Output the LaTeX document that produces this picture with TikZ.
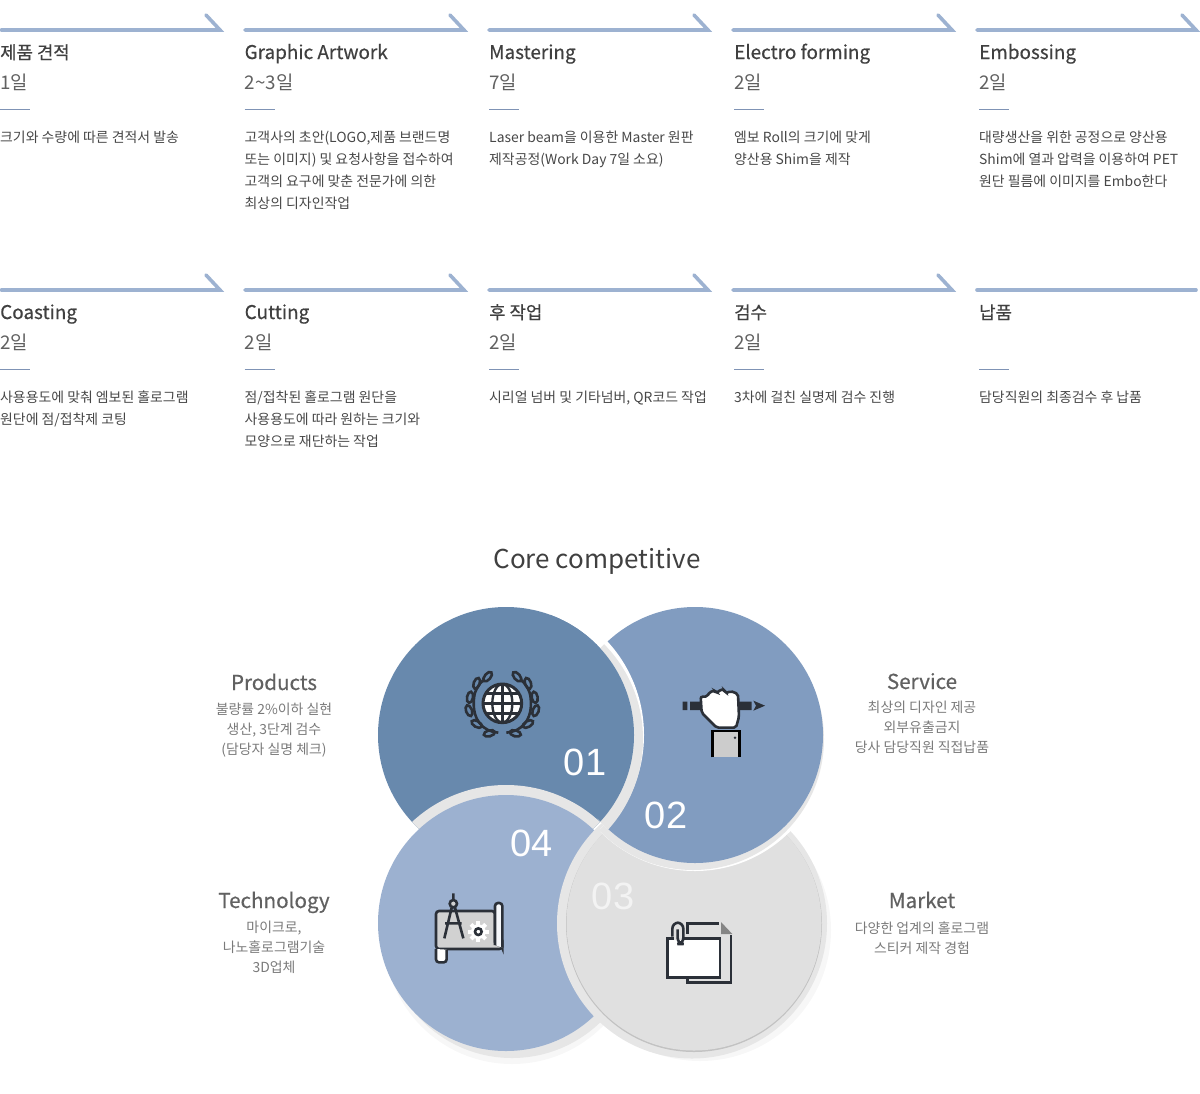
\documentclass[tikz,border=0pt]{standalone}
\usepackage{fontspec}
\setmainfont{Noto Sans CJK KR}
\newfontfamily\headfont[FakeBold=.5]{Noto Sans CJK KR}
\newfontfamily\numfont{Liberation Sans}
\usetikzlibrary{positioning}
\definecolor{stepblue}{HTML}{9DB2D1}
\definecolor{ruleblue}{HTML}{7F93B5}
\definecolor{discA}{HTML}{6889AD}
\definecolor{discB}{HTML}{819CC0}
\definecolor{discC}{HTML}{E0E0E0}
\definecolor{discD}{HTML}{9CB1D0}
\definecolor{ringgrey}{HTML}{E6E6E6}
\definecolor{icondark}{HTML}{2B3038}
\newcommand{\krtitle}[1]{\fontsize{17.8}{22}\selectfont #1}
\tikzset{
    steptitle/.style={anchor=base west, inner sep=0pt, text=black!75, font=\headfont\fontsize{18.9}{22}\selectfont},
    stepdays/.style={anchor=base west, inner sep=0pt, text=black!62, font=\fontsize{18.8}{22}\selectfont},
    stepnote/.style={anchor=north west, inner sep=0pt, align=left, text=black!72, font=\fontsize{13.9}{22}\selectfont},
    steparrow/.style={draw=stepblue, line width=3.6pt, line cap=round},
    sidehead/.style={anchor=base, inner sep=0pt, text=black!62, font=\headfont\fontsize{20.6}{24}\selectfont},
    sidenote/.style={anchor=north, inner sep=0pt, align=center, text=black!52, font=\fontsize{13.9}{20}\selectfont},
    discnum/.style={inner sep=0pt, text=white, font=\numfont\fontsize{38}{38}\selectfont},
    icon/.style={draw=icondark, line width=2.6pt},
}
\begin{document}
\begin{tikzpicture}[x=1pt, y=-1pt]
    \useasboundingbox (0,0) rectangle (1200,1093);
    % process steps
    \foreach \x/\tx/\name/\title/\days/\note in {
        0/0/quote/\krtitle{제품 견적}/1일/크기와 수량에 따른 견적서 발송,
        244/244.5/artwork/Graphic Artwork/2\char`\~3일/{고객사의 초안(LOGO,제품 브랜드명\\또는 이미지) 및 요청사항을 접수하여\\고객의 요구에 맞춘 전문가에 의한\\최상의 디자인작업},
        488/489/master/Mastering/7일/{Laser beam을 이용한 Master 원판\\제작공정(Work Day 7일 소요)},
        732/734/electro/Electro forming/2일/{엠보 Roll의 크기에 맞게\\양산용 Shim을 제작},
        976/979/emboss/Embossing/2일/{대량생산을 위한 공정으로 양산용\\Shim에 열과 압력을 이용하여 PET\\원단 필름에 이미지를 Embo한다}}{
            \coordinate (\name start) at (\x+1,30);
            \coordinate (\name end) at (\x+220,30);
            \coordinate (\name barb) at (\x+206,15);
            \draw[steparrow] (\name start) -- (\name end) -- (\name barb);
            \node[steptitle] (\name title) at (\tx,59) {\title};
            \node[stepdays] (\name days) at (\tx,89) {\days};
            \coordinate (\name a) at (\tx,109);
            \coordinate (\name b) at (\tx+30,109);
            \draw[ruleblue, line width=.7pt] (\name a) -- (\name b);
            \node[stepnote] (\name note) at (\tx,130.5) {\note};
        }
    \foreach \x/\tx/\name/\title/\days/\note in {
        0/0/coast/Coasting/2일/{사용용도에 맞춰 엠보된 홀로그램\\원단에 점/접착제 코팅},
        244/244.5/cut/Cutting/2일/{점/접착된 홀로그램 원단을\\사용용도에 따라 원하는 크기와\\모양으로 재단하는 작업},
        488/489/after/\krtitle{후 작업}/2일/{시리얼 넘버 및 기타넘버, QR코드 작업},
        732/734/check/\krtitle{검수}/2일/3차에 걸친 실명제 검수 진행,
        976/979/deliver/\krtitle{납품}//담당직원의 최종검수 후 납품}{
            \coordinate (\name start) at (\x+1,290);
            \coordinate (\name end) at (\x+220,290);
            \coordinate (\name barb) at (\x+206,275);
            \ifnum\x<900
                \draw[steparrow] (\name start) -- (\name end) -- (\name barb);
            \else
                \draw[steparrow] (\name start) -- (\name end);
            \fi
            \node[steptitle] (\name title) at (\tx,319) {\title};
            \node[stepdays] (\name days) at (\tx,349) {\days};
            \coordinate (\name a) at (\tx,369);
            \coordinate (\name b) at (\tx+30,369);
            \draw[ruleblue, line width=.7pt] (\name a) -- (\name b);
            \node[stepnote] (\name note) at (\tx,390.5) {\note};
        }

    \node[anchor=base, inner sep=0pt, text=black!75, font=\fontsize{26}{30}\selectfont] (core) at (597,568) {Core competitive};

    % discs, each one lying over the next
    \fill[black!3] (700,930) circle (131);
    \fill[black!3] (512,936) circle (128);
    \fill[discA] (506,735) circle (128);
    \begin{scope}
        \clip (506,735) circle (128);
        \fill[ringgrey] (506,923) circle (138);
    \end{scope}
    \fill[ringgrey] (512,931) circle (127);
    \fill[discD] (506,923) circle (128);
    \fill[ringgrey] (692,923.5) circle (135);
    \fill[black!24] (694,924) circle (128);
    \fill[discC] (694,923) circle (127.5);
    \begin{scope}
        \clip (600,829) -- (695,735) -- (700,590) -- (900,590) -- (900,900) -- (600,900) -- cycle;
        \fill[white] (695,737) circle (134);
        \fill[ringgrey] (693,739) circle (131);
    \end{scope}
    \fill[discB] (695,735) circle (128);
    \begin{scope}
        \clip (695,735) circle (128.5);
        \clip (500,600) rectangle (700,829);
        \fill[white] (506,735) circle (138);
        \fill[ringgrey] (508,739) circle (135);
    \end{scope}
    \begin{scope}
        \clip (550,610) -- (650,610) -- (650,830) -- (604,829) -- (600,821) -- (585,808) -- (550,790) -- cycle;
        \fill[discA] (506,735) circle (128);
    \end{scope}

    \node[discnum] (one) at (585,762) {01};
    \node[discnum] (two) at (666,815) {02};
    \node[discnum, text=white!60!discC] (three) at (613,896) {03};
    \node[discnum] (four) at (532,843) {04};

    % globe
    \begin{scope}[shift={(450,660)}, x=1/3*1pt, y=-1/3*1pt]
        \draw[icon, fill=white, line width=3pt] (157,130) circle (58);
        \begin{scope}
            \clip (157,130) circle (58);
            \draw[icondark, line width=2.4pt] (157,72) -- (157,188) (99,130) -- (215,130) (105,100) -- (209,100) (105,160) -- (209,160);
            \draw[icondark, line width=2.4pt] (157,130) ellipse (30 and 58);
        \end{scope}
        \draw[icon] (145,218) .. controls (100,215) and (65,180) .. (72,115) .. controls (74,90) and (85,75) .. (100,60);
        \draw[icon] (169,218) .. controls (214,215) and (249,180) .. (242,115) .. controls (240,90) and (229,75) .. (214,60);
        \foreach \u/\v/\r in {113/50/-50, 80/70/-70, 60/112/-80, 57/152/-110, 80/192/-150, 118/220/-15}{
            \draw[icon] (\u,\v) ellipse[x radius=17, y radius=9, rotate=-\r];
            \draw[icon] (314-\u,\v) ellipse[x radius=17, y radius=9, rotate=\r];
        }
    \end{scope}

    % hand and pencil
    \begin{scope}[shift={(670,680)}, x=1/3*1pt, y=-1/3*1pt]
        \fill[icondark] (38,65) rectangle (52,90) (60,65) rectangle (245,90);
        \fill[icondark] (250,62) -- (285,77) -- (250,92) -- (258,77) -- cycle;
        \draw[icon, fill=white, rounded corners=2pt] (92,50) -- (112,50) -- (118,36) -- (136,32) -- (142,40) -- (150,28) -- (164,30) -- (168,40) -- (182,33) -- (204,42) -- (207,110) -- (198,143) -- (140,143) -- (95,98) -- cycle;
        \fill[white!80!black] (125,152) rectangle (210,232);
        \draw[black, line width=2.6pt] (127,232) -- (127,153) -- (208,153) -- (208,232);
        \fill[icondark] (195,173) circle (4);
    \end{scope}

    % plan and compass
    \begin{scope}[shift={(425,885)}, x=1/3*1pt, y=-1/3*1pt]
        \draw[icon, fill=white!82!black, rounded corners=3pt] (33,192) -- (33,78) -- (210,78) -- (210,180) -- (232,180) -- (232,192) -- cycle;
        \draw[icon, fill=white!90!discD, rounded corners=3pt] (210,180) -- (210,54) -- (232,54) -- (232,188);
        \draw[icon, fill=white, rounded corners=3pt] (33,192) -- (33,232) -- (65,232) -- (65,194);
        \foreach \a in {0,45,...,315}{
            \fill[white] (160,140) ++(\a:20) ++(\a+90:6) -- ++(\a:11) -- ++(\a-90:12) -- ++(\a+180:11) -- cycle;
        }
        \fill[white] (160,140) circle (22);
        \draw[icon, fill=white] (160,140) circle (10);
        \draw[icon] (85,25) -- (85,44) (80,68) -- (58,160) (90,68) -- (115,160) (60,115) -- (110,115);
        \draw[icon, fill=white!82!black] (85,56) circle (11);
    \end{scope}

    % pages and clip
    \begin{scope}[shift={(655,910)}, x=1/3*1pt, y=-1/3*1pt]
        \draw[icon] (97,72) -- (97,40) -- (192,40);
        \fill[black!48] (198,36) -- (232,72) -- (198,72) -- cycle;
        \draw[icon] (228,76) -- (228,218) -- (97,218) -- (97,203);
        \draw[icon, fill=white] (38,85) rectangle (195,202);
        \fill[discC] (56,80) rectangle (81,90);
        \draw[icon, rounded corners=6pt] (68,58) -- (68,102) -- (85,102) -- (85,38) -- (52,38) -- (52,80);
    \end{scope}

    % the four side texts
    \node[sidehead] (producthead) at (274,690) {Products};
    \node[sidenote, below=12.5pt of producthead.base] (productnote) {불량률 2\%이하 실현\\생산, 3단계 검수\\(담당자 실명 체크)};
    \node[sidehead] (servicehead) at (922,689) {Service};
    \node[sidenote, below=12pt of servicehead.base] (servicenote) {최상의 디자인 제공\\외부유출금지\\당사 담당직원 직접납품};
    \node[sidehead] (techhead) at (274,908) {Technology};
    \node[sidenote, below=13pt of techhead.base] (technote) {마이크로,\\나노홀로그램기술\\3D업체};
    \node[sidehead] (markethead) at (922,908) {Market};
    \node[sidenote, below=14pt of markethead.base] (marketnote) {다양한 업계의 홀로그램\\스티커 제작 경험};
\end{tikzpicture}
\end{document}
